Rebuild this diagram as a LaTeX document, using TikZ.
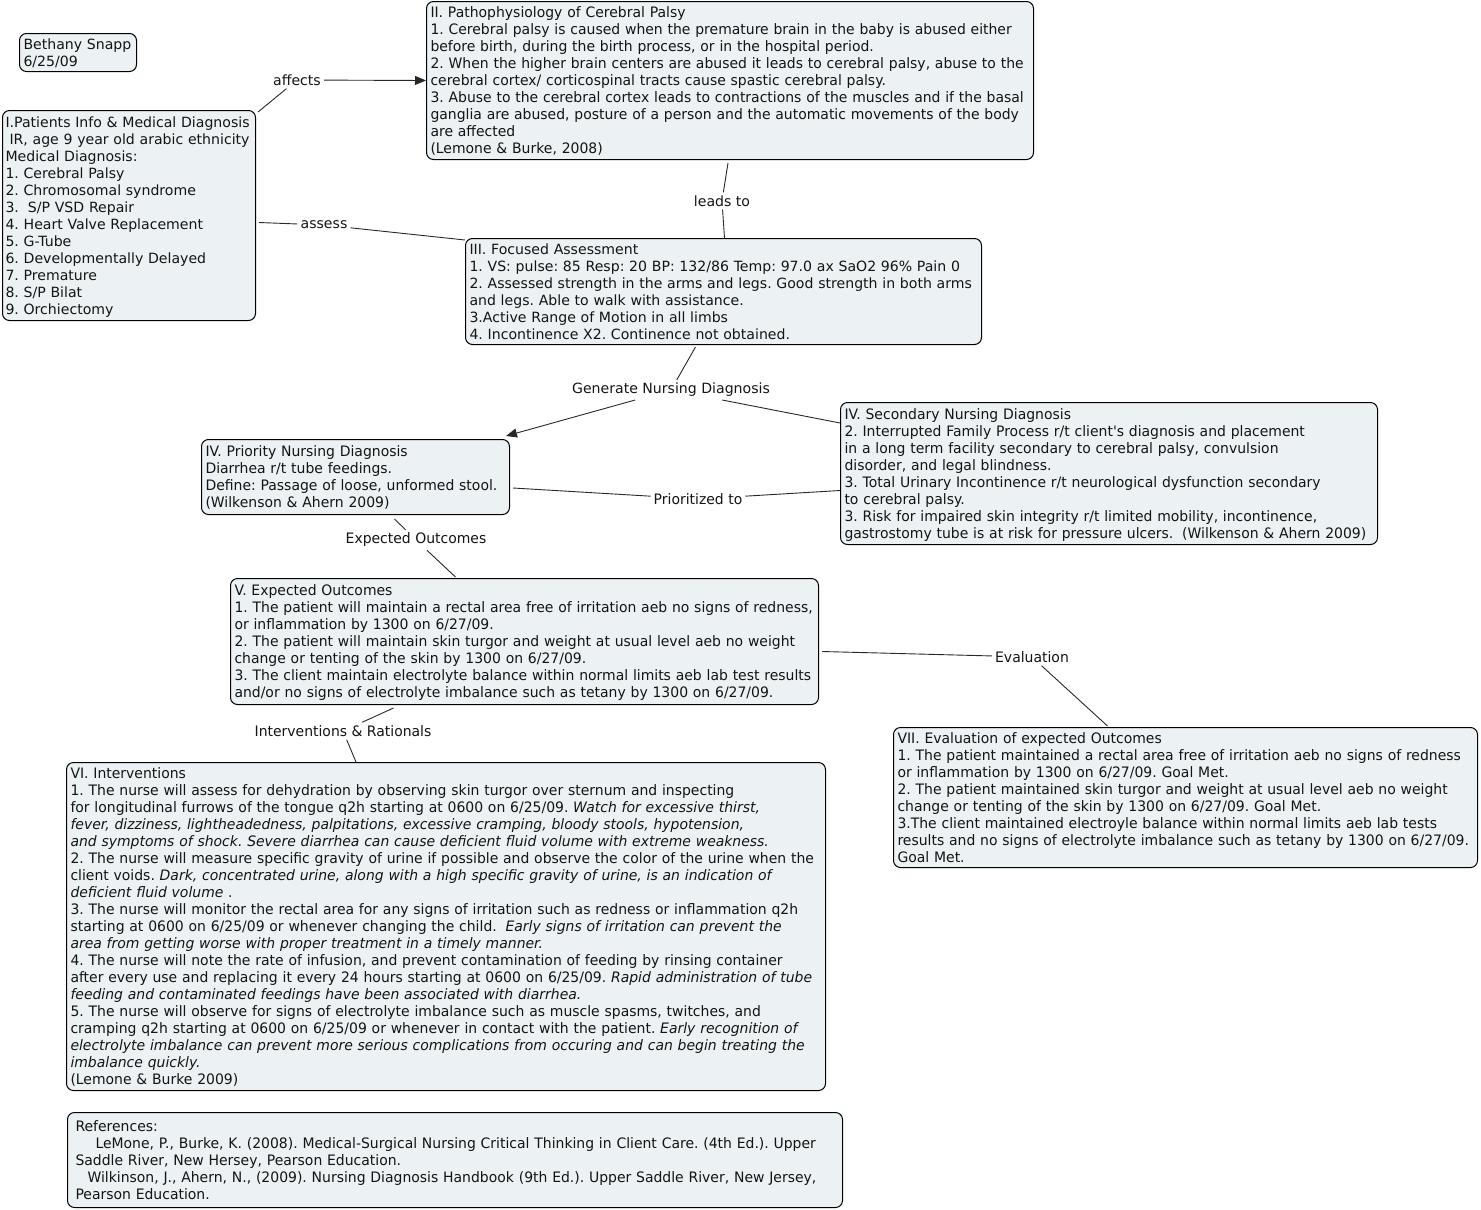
\documentclass[tikz,border=0pt]{standalone}
\usepackage{fontspec}
\usetikzlibrary{calc,arrows.meta}
\newfontfamily\verd{DejaVu Sans}
\newfontfamily\taho[FakeStretch=0.97]{DejaVu Sans}
\definecolor{boxfill}{RGB}{236,242,244}
\definecolor{ink}{RGB}{20,20,20}
\definecolor{wire}{RGB}{40,40,40}
\newenvironment{lns}{\begin{tabular}{@{}l@{}}\rule{0pt}{15.9pt}}{\end{tabular}}
\frenchspacing
\begin{document}
\begin{tikzpicture}[x=1pt,y=-1pt,
  cbox/.style={draw=black, line width=1pt, fill=boxfill, rounded corners=7pt,
    anchor=north west, align=left, inner xsep=4pt, inner ysep=0pt, text=ink},
  vfont/.style={font=\verd\fontsize{14.1}{17}\selectfont},
  tfont/.style={font=\taho\fontsize{14.4}{17}\selectfont},
  lbl/.style={inner sep=3pt, text=ink},
  wirestyle/.style={draw=wire, line width=0.9pt},
  arr/.style={wirestyle, -{Triangle[length=11pt,width=9pt]}}
]
\useasboundingbox (0,0) rectangle (1481,1210);

% boxes
\node[cbox,vfont,text width=109pt,minimum height=38pt] (author) at (19,33)
  {\begin{lns}Bethany Snapp\\6/25/09\end{lns}};

\node[cbox,vfont,inner xsep=3pt,text width=247pt,minimum height=210pt] (pI) at (2,110)
  {\begin{lns}I.Patients Info \& Medical Diagnosis\\
   \hspace*{4pt}IR, age 9 year old arabic ethnicity\\
   Medical Diagnosis:\\
   1. Cerebral Palsy\\
   2. Chromosomal syndrome\\
   3.\hspace*{9pt}S/P VSD Repair\\
   4. Heart Valve Replacement\\
   5. G-Tube\\
   6. Developmentally Delayed\\
   7. Premature\\
   8. S/P Bilat\\
   9. Orchiectomy\end{lns}};

\node[cbox,tfont,text width=599pt,minimum height=158pt] (pII) at (426,1)
  {\begin{lns}II. Pathophysiology of Cerebral Palsy\\
   1. Cerebral palsy is caused when the premature brain in the baby is abused either\\
   before birth, during the birth process, or in the hospital period.\\
   2. When the higher brain centers are abused it leads to cerebral palsy, abuse to the\\
   cerebral cortex/ corticospinal tracts cause spastic cerebral palsy.\\
   3. Abuse to the cerebral cortex leads to contractions of the muscles and if the basal\\
   ganglia are abused, posture of a person and the automatic movements of the body\\
   are affected\\
   (Lemone \& Burke, 2008)\end{lns}};

\node[cbox,vfont,text width=508pt,minimum height=105pt] (pIII) at (465,238)
  {\begin{lns}III. Focused Assessment\\
   1. VS: pulse: 85 Resp: 20 BP: 132/86 Temp: 97.0 ax SaO2 96\% Pain 0\\
   2. Assessed strength in the arms and legs. Good strength in both arms\\
   and legs. Able to walk with assistance.\\
   3.Active Range of Motion in all limbs\\
   4. Incontinence X2. Continence not obtained.\end{lns}};

\node[cbox,tfont,text width=300pt,minimum height=75pt] (pIVp) at (201,439)
  {\begin{lns}IV. Priority Nursing Diagnosis\\
   Diarrhea r/t tube feedings.\\
   Define: Passage of loose, unformed stool.\\
   (Wilkenson \& Ahern 2009)\end{lns}};

\node[cbox,tfont,text width=529pt,minimum height=142pt] (pIVs) at (840,402)
  {\begin{lns}IV. Secondary Nursing Diagnosis\\
   2. Interrupted Family Process r/t client's diagnosis and placement\\
   in a long term facility secondary to cerebral palsy, convulsion\\
   disorder, and legal blindness.\\
   3. Total Urinary Incontinence r/t neurological dysfunction secondary\\
   to cerebral palsy.\\
   3. Risk for impaired skin integrity r/t limited mobility, incontinence,\\
   gastrostomy tube is at risk for pressure ulcers.\hspace*{4pt} (Wilkenson \& Ahern 2009)\end{lns}};

\node[cbox,tfont,text width=580pt,minimum height=126pt] (pV) at (230,578)
  {\begin{lns}V. Expected Outcomes\\
   1. The patient will maintain a rectal area free of irritation aeb no signs of redness,\\
   or inflammation by 1300 on 6/27/09.\\
   2. The patient will maintain skin turgor and weight at usual level aeb no weight\\
   change or tenting of the skin by 1300 on 6/27/09.\\
   3. The client maintain electrolyte balance within normal limits aeb lab test results\\
   and/or no signs of electrolyte imbalance such as tetany by 1300 on 6/27/09.\end{lns}};

\node[cbox,tfont,text width=751pt,minimum height=328pt] (pVI) at (66,762)
  {\begin{lns}VI. Interventions\\
   1. The nurse will assess for dehydration by observing skin turgor over sternum and inspecting\\
   for longitudinal furrows of the tongue q2h starting at 0600 on 6/25/09. \textit{Watch for excessive thirst,}\\
   \textit{fever, dizziness, lightheadedness, palpitations, excessive cramping, bloody stools, hypotension,}\\
   \textit{and symptoms of shock. Severe diarrhea can cause deficient fluid volume with extreme weakness.}\\
   2. The nurse will measure specific gravity of urine if possible and observe the color of the urine when the\\
   client voids. \textit{Dark, concentrated urine, along with a high specific gravity of urine, is an indication of}\\
   \textit{deficient fluid volume} .\\
   3. The nurse will monitor the rectal area for any signs of irritation such as redness or inflammation q2h\\
   starting at 0600 on 6/25/09 or whenever changing the child.\hspace*{4pt} \textit{Early signs of irritation can prevent the}\\
   \textit{area from getting worse with proper treatment in a timely manner.}\\
   4. The nurse will note the rate of infusion, and prevent contamination of feeding by rinsing container\\
   after every use and replacing it every 24 hours starting at 0600 on 6/25/09. \textit{Rapid administration of tube}\\
   \textit{feeding and contaminated feedings have been associated with diarrhea.}\\
   5. The nurse will observe for signs of electrolyte imbalance such as muscle spasms, twitches, and\\
   cramping q2h starting at 0600 on 6/25/09 or whenever in contact with the patient. \textit{Early recognition of}\\
   \textit{electrolyte imbalance can prevent more serious complications from occuring and can begin treating the}\\
   \textit{imbalance quickly.}\\
   (Lemone \& Burke 2009)\end{lns}};

\node[cbox,tfont,text width=576pt,minimum height=140pt] (pVII) at (893,727)
  {\begin{lns}VII. Evaluation of expected Outcomes\\
   1. The patient maintained a rectal area free of irritation aeb no signs of redness\\
   or inflammation by 1300 on 6/27/09. Goal Met.\\
   2. The patient maintained skin turgor and weight at usual level aeb no weight\\
   change or tenting of the skin by 1300 on 6/27/09. Goal Met.\\
   3.The client maintained electroyle balance within normal limits aeb lab tests\\
   results and no signs of electrolyte imbalance such as tetany by 1300 on 6/27/09.\\
   Goal Met.\end{lns}};

\node[cbox,tfont,inner xsep=8pt,text width=759pt,minimum height=95pt] (refs) at (67,1112)
  {\begin{lns}References:\\
   \hspace*{20pt}LeMone, P., Burke, K. (2008). Medical-Surgical Nursing Critical Thinking in Client Care. (4th Ed.). Upper\\
   Saddle River, New Hersey, Pearson Education.\\
   \hspace*{12pt}Wilkinson, J., Ahern, N., (2009). Nursing Diagnosis Handbook (9th Ed.). Upper Saddle River, New Jersey,\\
   Pearson Education.\end{lns}};

% linking phrases
\node[lbl,vfont] (affects) at (297,80) {affects};
\node[lbl,vfont] (assess) at (324,225) {assess};
\node[lbl,vfont] (leads) at (722,201) {leads to};
\node[lbl,vfont] (gen) at (671,390) {Generate Nursing Diagnosis};
\node[lbl,tfont] (prio) at (698,499) {Prioritized to};
\node[lbl,tfont] (expl) at (416,540) {Expected Outcomes};
\node[lbl,tfont] (eval) at (1032,657) {Evaluation};
\node[lbl,tfont] (interv) at (343,731) {Interventions \& Rationals};

% connectors
\draw[wirestyle] ($(pI.north east)+(2,2)$) -- (affects);
\draw[arr] (affects) -- (pII.west);
\draw[wirestyle] ($(pI.east)+(3,7)$) -- (assess) -- ($(pIII.north west)+(0,2)$);
\draw[wirestyle] ($(pII.south)+(-2,3)$) -- (leads) -- ($(pIII.north)+(1,0)$);
\draw[wirestyle] ($(pIII.south)+(-28,2)$) -- (gen);
\draw[arr] (gen) -- ($(pIVp.north east)+(-4,-3)$);
\draw[wirestyle] (gen) -- ($(pIVs.north west)+(0,21)$);
\draw[wirestyle] ($(pIVp.east)+(3,11)$) -- (prio) -- ($(pIVs.west)+(0,17)$);
\draw[wirestyle] ($(pIVp.south)+(39,4)$) -- (expl) -- ($(pV.north)+(-69,-1)$);
\draw[wirestyle] ($(pV.east)+(3,10)$) -- (eval) -- ($(pVII.north)+(-78,-1)$);
\draw[wirestyle] ($(pV.south)+(-131,3)$) -- (interv) -- ($(pVI.north)+(-90,0)$);
\end{tikzpicture}
\end{document}
